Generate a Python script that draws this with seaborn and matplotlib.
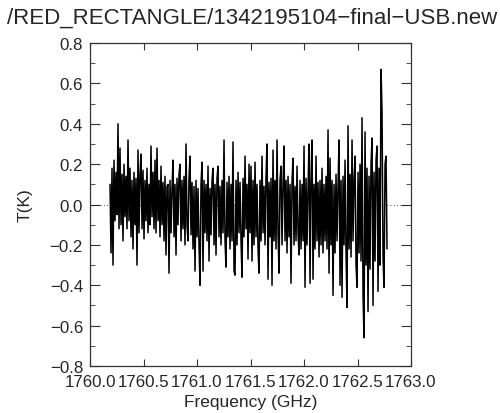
import numpy as np
import pandas as pd
import matplotlib
matplotlib.use("Agg")
import matplotlib.pyplot as plt
from matplotlib.ticker import MultipleLocator
import seaborn as sns

TITLE = "/RED_RECTANGLE/1342195104\u2212final\u2212USB.new"

# channel range of the spectrum (GHz)
FREQ_START = 1760.187
FREQ_END = 1762.776

# antenna temperature per channel (K)
temp_k = [
    0.10, -0.24, 0.18, -0.30, 0.22, -0.08, 0.16, -0.05, 0.40, -0.12,
    0.28, -0.10, 0.15, -0.18, 0.20, -0.06, 0.14, -0.12, 0.32, -0.08,
    0.18, -0.16, 0.12, -0.22, 0.16, -0.10, 0.13, -0.30, 0.27, -0.14,
    0.15, 0.25, -0.12, 0.17, -0.17, 0.12, -0.08, 0.18, -0.14, 0.10,
    -0.10, 0.29, -0.06, 0.16, -0.12, 0.22, -0.14, 0.28, -0.08, 0.12,
    -0.16, 0.19, -0.10, 0.11, -0.18, 0.14, -0.25, 0.09, 0.10, -0.34,
    0.12, -0.14, 0.08, 0.22, -0.16, 0.10, -0.25, 0.13, -0.10, 0.15,
    0.20, -0.18, 0.12, -0.12, 0.14, -0.20, 0.30, -0.10, -0.18, 0.13,
    0.24, -0.15, 0.11, -0.22, 0.09, -0.33, 0.12, -0.16, 0.08, -0.20,
    -0.40, 0.10, 0.21, -0.33, 0.12, -0.14, 0.10, -0.18, 0.19, -0.28,
    0.08, -0.15, 0.12, 0.18, -0.20, 0.10, -0.25, 0.13, 0.19, -0.16,
    0.09, -0.20, 0.12, -0.14, 0.32, -0.18, -0.31, 0.11, -0.16, 0.14,
    -0.22, 0.10, -0.18, 0.31, -0.33, -0.35, 0.12, -0.20, 0.16, -0.14,
    0.11, -0.18, -0.36, 0.13, -0.16, 0.24, -0.12, 0.10, -0.27, 0.20,
    -0.14, 0.19, -0.28, 0.12, -0.20, 0.21, -0.16, 0.10, -0.22, -0.34,
    0.12, -0.18, 0.24, -0.14, 0.09, -0.20, 0.14, 0.30, -0.37, 0.11,
    -0.16, 0.13, -0.40, 0.27, -0.18, 0.12, -0.22, 0.32, -0.14, -0.34,
    0.12, 0.19, -0.20, 0.10, 0.29, -0.18, 0.12, -0.24, 0.14, -0.16,
    0.10, -0.39, 0.12, 0.23, -0.20, 0.09, -0.18, 0.19, -0.14, -0.25,
    0.12, -0.22, 0.10, -0.18, 0.29, -0.41, 0.13, -0.20, 0.08, 0.30,
    -0.39, 0.14, 0.32, -0.37, 0.10, -0.22, 0.24, -0.18, 0.11, -0.26,
    0.12, -0.20, 0.18, -0.24, 0.10, -0.18, 0.14, -0.22, 0.37, -0.34,
    0.23, -0.20, 0.12, -0.45, 0.10, -0.24, 0.15, -0.18, 0.09, 0.32,
    -0.40, 0.12, -0.46, 0.14, -0.20, 0.22, -0.24, -0.51, 0.39, -0.22,
    0.15, -0.26, 0.32, -0.18, 0.12, 0.24, -0.30, -0.41, 0.16, -0.24,
    0.20, -0.28, 0.43, -0.45, -0.66, 0.36, -0.30, 0.18, -0.53, 0.14,
    -0.32, 0.20, 0.33, -0.50, 0.16, -0.28, 0.22, 0.29, -0.43, 0.18,
    -0.30, 0.67, 0.46, -0.26, -0.41, 0.20, 0.24, -0.22,
]

x_ticks = [1760.0, 1760.5, 1761.0, 1761.5, 1762.0, 1762.5, 1763.0]
y_ticks = [-0.8, -0.6, -0.4, -0.2, 0.0, 0.2, 0.4, 0.6, 0.8]

sns.set_style("ticks")
plt.rcParams['font.family'] = ['Liberation Sans', 'DejaVu Sans']

df = pd.DataFrame({
    'freq': np.linspace(FREQ_START, FREQ_END, len(temp_k)),
    'temp': temp_k,
})

fig = plt.figure(figsize=(5.0, 4.14), dpi=100)
ax = fig.add_axes([0.18, 0.1135, 0.642, 0.780])

ax.axhline(0.0, color='black', lw=0.6, ls=(0, (1, 3)), zorder=1)
sns.lineplot(data=df, x='freq', y='temp', estimator=None, color='black',
             lw=1.1, ax=ax, zorder=2)

ax.set_xlim(1760.0, 1763.0)
ax.set_ylim(-0.8, 0.8)
ax.set_xticks(x_ticks)
ax.set_xticklabels([f"{v:.1f}" for v in x_ticks])
ax.set_yticks(y_ticks)
ax.set_yticklabels([f"{v:.1f}".replace('-', '\u2212') for v in y_ticks])
ax.yaxis.set_minor_locator(MultipleLocator(0.1))

ax.tick_params(axis='both', which='both', direction='in', top=True, right=True,
               labelsize=12.2, color='#333333')
ax.tick_params(axis='x', which='major', length=5, pad=6)
ax.tick_params(axis='y', which='major', length=7, pad=5)
ax.tick_params(axis='y', which='minor', length=3.5)
for s in ax.spines.values():
    s.set_linewidth(0.9)
    s.set_color('#333333')

ax.set_xlabel("Frequency (GHz)", fontsize=12.5, labelpad=3)
ax.set_ylabel("T(K)", fontsize=12.5, labelpad=12)

fig.text(0.994, 0.957, TITLE, ha='right', va='center', fontsize=16)

fig.savefig("out.png", dpi=100)
